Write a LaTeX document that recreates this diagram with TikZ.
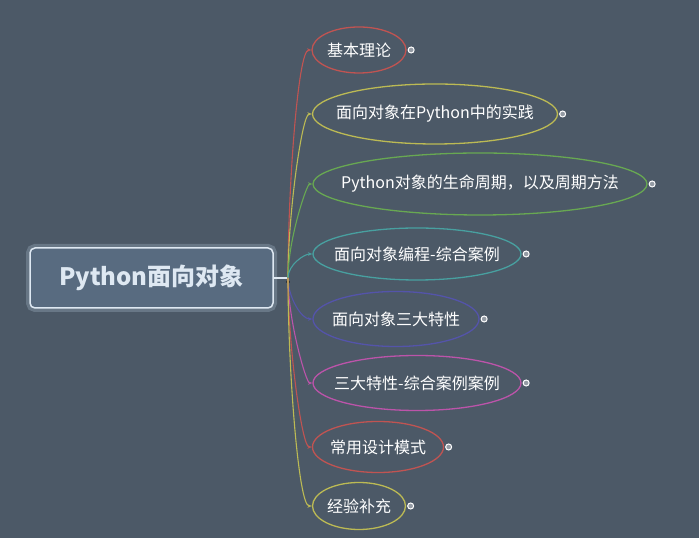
\documentclass[tikz,border=0pt]{standalone}
\usepackage{fontspec}
\setmainfont{Noto Sans CJK SC}
\usetikzlibrary{shapes.geometric,arrows.meta,positioning}
\definecolor{bgcol}{RGB}{76,89,103}
\definecolor{rootfill}{RGB}{88,107,128}
\definecolor{rootborder}{RGB}{222,232,242}
\definecolor{rootshadow}{RGB}{104,119,134}
\definecolor{roottext}{RGB}{222,232,242}
\definecolor{redline}{RGB}{192,84,82}
\definecolor{yellowline}{RGB}{188,186,84}
\definecolor{greenline}{RGB}{104,168,82}
\definecolor{tealline}{RGB}{72,160,160}
\definecolor{blueline}{RGB}{84,84,170}
\definecolor{pinkline}{RGB}{188,84,170}
\begin{document}
\begin{tikzpicture}[x=1pt,y=1pt,
  root_node/.style={rectangle,rounded corners=5pt,fill=rootfill,draw=rootborder,line width=1.5pt,
    preaction={draw=rootshadow,line width=8pt},minimum width=243pt,minimum height=60pt,
    text=roottext,font=\bfseries\fontsize{24}{28}\selectfont},
  sub_node/.style={ellipse,draw,line width=1.3pt,inner xsep=-30pt,inner ysep=0pt,
    text=white,font=\fontsize{16}{18}\selectfont},
  fold_node/.style={circle,draw=white,fill=bgcol!60!white,line width=1pt,inner sep=0pt,minimum size=6pt},
  branch/.style={draw,line width=1.1pt,in looseness=0.15,-{Stealth[length=4.5pt,width=3.5pt]}}]

     \fill[bgcol] (0,0) rectangle (699,538);
     \useasboundingbox (0,0) rectangle (699,538);

     \node[root_node] (root) at (151.5,260) {Python面向对象};
     \coordinate (trunk) at (288,260);

     \node[sub_node,draw=redline,minimum width=94pt,minimum height=46pt] (theory) at (359,488) {基本理论};
     \node[sub_node,draw=yellowline,minimum width=245pt,minimum height=60pt] (practice) at (435,424) {面向对象在Python中的实践};
     \node[sub_node,draw=greenline,minimum width=334pt,minimum height=62pt] (life) at (480,354) {Python对象的生命周期，以及周期方法};
     \node[sub_node,draw=tealline,minimum width=208pt,minimum height=52pt] (case) at (417,284) {面向对象编程-综合案例};
     \node[sub_node,draw=blueline,minimum width=166pt,minimum height=55pt] (traits) at (396,219) {面向对象三大特性};
     \node[sub_node,draw=pinkline,minimum width=208pt,minimum height=55pt] (traitcase) at (417,155) {三大特性-综合案例案例};
     \node[sub_node,draw=redline,minimum width=131pt,minimum height=51pt] (pattern) at (378,91) {常用设计模式};
     \node[sub_node,draw=yellowline,minimum width=93pt,minimum height=47pt] (extra) at (359,32) {经验补充};

     \node[fold_node,right=1pt of theory] (theory_fold) {};
     \node[fold_node,right=1pt of practice] (practice_fold) {};
     \node[fold_node,right=1pt of life] (life_fold) {};
     \node[fold_node,right=1pt of case] (case_fold) {};
     \node[fold_node,right=1pt of traits] (traits_fold) {};
     \node[fold_node,right=1pt of traitcase] (traitcase_fold) {};
     \node[fold_node,right=1pt of pattern] (pattern_fold) {};
     \node[fold_node,right=1pt of extra] (extra_fold) {};

     \draw[rootborder,line width=1.1pt] (root) -- (trunk);

     \path[branch]
     (trunk) edge[redline,out=90,in=180] (theory)
     (trunk) edge[yellowline,out=90,in=180] (practice)
     (trunk) edge[greenline,out=90,in=180] (life)
     (trunk) edge[tealline,out=90,in=180,in looseness=0.6] (case)
     (trunk) edge[blueline,out=-90,in=180,in looseness=0.6] (traits)
     (trunk) edge[pinkline,out=-90,in=180] (traitcase)
     (trunk) edge[redline,out=-90,in=180] (pattern)
     (trunk) edge[yellowline,out=-90,in=180] (extra)
     ;
\end{tikzpicture}
\end{document}
